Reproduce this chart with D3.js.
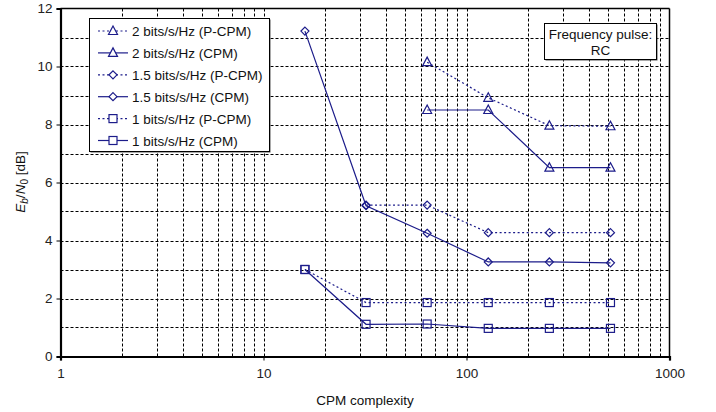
<!DOCTYPE html>
<html><head><meta charset="utf-8">
<script src="https://cdn.jsdelivr.net/npm/d3@7"></script>
<style>
body{margin:0;background:#fff;}
svg{display:block;font-family:"Liberation Sans",Arial,sans-serif;}
</style></head><body>
<svg id="c" width="716" height="412"></svg>
<script>
const complexity = [16, 32, 64, 128, 256, 512];
const s2pcpm  = [null, null, 10.15, 8.92, 7.96, 7.94];
const s2cpm   = [null, null, 8.5, 8.5, 6.51, 6.51];
const s15pcpm = [null, 5.22, 5.22, 4.27, 4.27, 4.27];
const s15cpm  = [11.22, 5.2, 4.25, 3.26, 3.26, 3.23];
const s1pcpm  = [3.0, 1.86, 1.86, 1.86, 1.86, 1.86];
const s1cpm   = [3.0, 1.11, 1.12, 0.97, 0.97, 0.97];
const seriesNames = ["2 bits/s/Hz (P-CPM)","2 bits/s/Hz (CPM)","1.5 bits/s/Hz (P-CPM)","1.5 bits/s/Hz (CPM)","1 bits/s/Hz (P-CPM)","1 bits/s/Hz (CPM)"];
const seriesValues = [s2pcpm, s2cpm, s15pcpm, s15cpm, s1pcpm, s1cpm];
const seriesMarker = ["tri","tri","dia","dia","sq","sq"];
const seriesDotted = [true,false,true,false,true,false];
const yTicks = [0,2,4,6,8,10,12];
const xTicks = [1,10,100,1000];
const xLabel = "CPM complexity";
const noteLines = ["Frequency pulse:", "RC"];

const color = "#1c1c8a";
const FS = 13.5;
const svg = d3.select("#c");
const x = d3.scaleLog().domain([1,1000]).range([60.5,669.5]);
const y = d3.scaleLinear().domain([0,12]).range([356.5,8.5]);

// grid
const vgrid = [];
[1,10,100].forEach(d => { for (let k=2;k<=9;k++) vgrid.push(d*k); });
vgrid.push(10,100);
const g = svg.append("g");
g.selectAll("line.v").data(vgrid).join("line")
  .attr("x1",d=>Math.round(x(d))+0.5).attr("x2",d=>Math.round(x(d))+0.5)
  .attr("y1",y(12)).attr("y2",y(0))
  .attr("stroke","#000").attr("stroke-width",1).attr("stroke-dasharray","3,2");
g.selectAll("line.h").data(d3.range(1,12)).join("line")
  .attr("x1",x(1)).attr("x2",x(1000))
  .attr("y1",d=>Math.round(y(d))+0.5).attr("y2",d=>Math.round(y(d))+0.5)
  .attr("stroke","#000").attr("stroke-width",1).attr("stroke-dasharray","3,2");

// frame
svg.append("line").attr("x1",x(1)).attr("x2",x(1000)).attr("y1",y(12)).attr("y2",y(12)).attr("stroke","#000").attr("stroke-width",1.5);
svg.append("line").attr("x1",x(1000)).attr("x2",x(1000)).attr("y1",y(12)).attr("y2",y(0)).attr("stroke","#000").attr("stroke-width",1.5);

// axes
const yAxis = d3.axisLeft(y).tickValues(yTicks).tickSize(4).tickPadding(4).tickFormat(d3.format("d"));
const ya = svg.append("g").attr("transform",`translate(${x(1)},0)`).call(yAxis);
ya.select(".domain").attr("stroke-width",2.2);
const xAxis = d3.axisBottom(x).tickValues(xTicks).tickSize(4).tickPadding(8).tickFormat(d3.format("d"));
const xa = svg.append("g").attr("transform",`translate(0,${y(0)})`).call(xAxis);
xa.select(".domain").attr("stroke-width",2.2);
svg.selectAll(".tick text").attr("font-size",FS).attr("fill","#222").attr("font-family","'Liberation Sans',Arial,sans-serif");

// markers
function marker(sel, type, cx, cy) {
  if (type==="tri") {
    sel.append("path").attr("d",`M${cx},${cy-5}L${cx+4.5},${cy+3.5}L${cx-4.5},${cy+3.5}Z`);
  } else if (type==="dia") {
    sel.append("path").attr("d",`M${cx},${cy-4}L${cx+4},${cy}L${cx},${cy+4}L${cx-4},${cy}Z`);
  } else {
    sel.append("rect").attr("x",cx-4).attr("y",cy-4).attr("width",8).attr("height",8);
  }
}

// series
const line = d3.line().defined(d=>d.v!==null).x(d=>x(d.c)).y(d=>y(d.v));
seriesValues.forEach((vals,i)=>{
  const pts = complexity.map((c,j)=>({c, v: vals[j]}));
  svg.append("path").datum(pts).attr("d",line).attr("fill","none")
    .attr("stroke",color).attr("stroke-width",1.2)
    .attr("stroke-dasharray",seriesDotted[i]?"2,2.5":null);
  const mg = svg.append("g").attr("fill","none").attr("stroke",color).attr("stroke-width",1.2);
  pts.filter(d=>d.v!==null).forEach(d=>marker(mg, seriesMarker[i], x(d.c), y(d.v)));
});

// legend
const lg = svg.append("g");
lg.append("rect").attr("x",90.5).attr("y",19.5).attr("width",180).attr("height",133).attr("fill","#555");
lg.append("rect").attr("x",89.5).attr("y",18.5).attr("width",180).attr("height",133).attr("fill","#fff").attr("stroke","#000").attr("stroke-width",1);
seriesNames.forEach((name,i)=>{
  const cy = 31 + i*21.9;
  lg.append("line").attr("x1",98).attr("x2",128).attr("y1",cy).attr("y2",cy)
    .attr("stroke",color).attr("stroke-width",1.2).attr("stroke-dasharray",seriesDotted[i]?"2,2.5":null);
  const mg = lg.append("g").attr("fill","#fff").attr("stroke",color).attr("stroke-width",1.2);
  marker(mg, seriesMarker[i], 113, cy);
  lg.append("text").attr("x",132).attr("y",cy+5).attr("font-size",FS).attr("fill","#111").text(name);
});

// note box
const nb = svg.append("g");
nb.append("rect").attr("x",545.5).attr("y",24.5).attr("width",112).attr("height",36).attr("fill","#555");
nb.append("rect").attr("x",544.5).attr("y",23.5).attr("width",112).attr("height",36).attr("fill","#fff").attr("stroke","#000");
noteLines.forEach((t,i)=>{
  nb.append("text").attr("x",600.5).attr("y",38.5+i*16).attr("text-anchor","middle").attr("font-size",FS).attr("fill","#111").text(t);
});

// axis titles
svg.append("text").attr("x",x(Math.sqrt(1000))).attr("y",405).attr("text-anchor","middle").attr("font-size",FS).attr("fill","#111").text(xLabel);
const yt = svg.append("text").attr("transform","translate(25,182) rotate(-90)").attr("text-anchor","middle").attr("font-size",FS).attr("fill","#111");
yt.append("tspan").attr("font-style","italic").text("E");
yt.append("tspan").attr("font-style","italic").attr("font-size",10).attr("dy",3).text("b");
yt.append("tspan").attr("dy",-3).text("/");
yt.append("tspan").attr("font-style","italic").text("N");
yt.append("tspan").attr("font-size",10).attr("dy",3).text("0");
yt.append("tspan").attr("dy",-3).text(" [dB]");
</script>
</body></html>
